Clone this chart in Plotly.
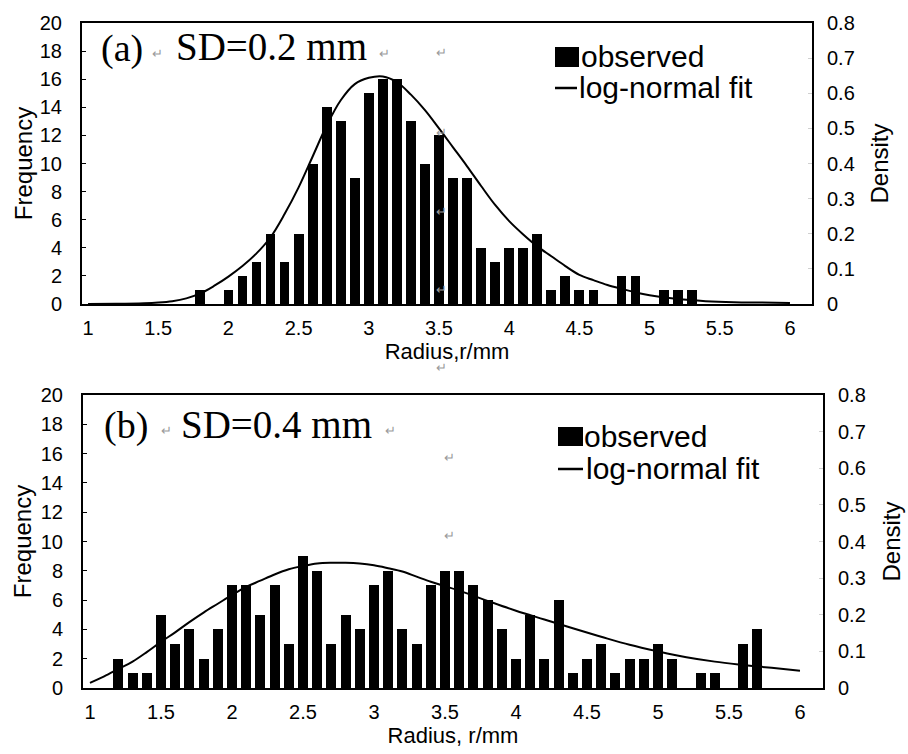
import plotly.graph_objects as go

# ---------------- data ----------------
# Panel (a): SD = 0.2 mm
a_radius = [1.8, 2.0, 2.1, 2.2, 2.3, 2.4, 2.5, 2.6, 2.7, 2.8, 2.9, 3.0, 3.1, 3.2, 3.3,
            3.4, 3.5, 3.6, 3.7, 3.8, 3.9, 4.0, 4.1, 4.2, 4.3, 4.4, 4.5, 4.6, 4.8, 4.9,
            5.1, 5.2, 5.3]
a_freq = [1, 1, 2, 3, 5, 3, 5, 10, 14, 13, 9, 15, 16, 16, 13,
          10, 12, 9, 9, 4, 3, 4, 4, 5, 1, 2, 1, 1, 2, 2,
          1, 1, 1]
a_fit_r = [1.0, 1.2, 1.4, 1.5, 1.6, 1.7, 1.8, 1.9, 2.0, 2.1, 2.2, 2.3, 2.4, 2.5, 2.6,
           2.7, 2.8, 2.9, 3.0, 3.1, 3.2, 3.3, 3.4, 3.5, 3.6, 3.7, 3.8, 3.9, 4.0, 4.1,
           4.2, 4.3, 4.4, 4.5, 4.6, 4.7, 4.8, 4.9, 5.0, 5.2, 5.4, 5.6, 5.8, 6.0]
a_fit_density = [0.000, 0.0004, 0.002, 0.004, 0.008, 0.016, 0.030, 0.052, 0.078, 0.108,
                 0.144, 0.190, 0.256, 0.332, 0.420, 0.508, 0.580, 0.626, 0.644, 0.648,
                 0.632, 0.596, 0.552, 0.500, 0.446, 0.392, 0.336, 0.282, 0.236, 0.198,
                 0.164, 0.136, 0.108, 0.083, 0.068, 0.054, 0.043, 0.033, 0.025, 0.014,
                 0.008, 0.005, 0.004, 0.003]

# Panel (b): SD = 0.4 mm
b_radius = [1.2, 1.3, 1.4, 1.5, 1.6, 1.7, 1.8, 1.9, 2.0, 2.1, 2.2, 2.3, 2.4, 2.5, 2.6,
            2.7, 2.8, 2.9, 3.0, 3.1, 3.2, 3.3, 3.4, 3.5, 3.6, 3.7, 3.8, 3.9, 4.0, 4.1,
            4.2, 4.3, 4.4, 4.5, 4.6, 4.7, 4.8, 4.9, 5.0, 5.1, 5.3, 5.4, 5.6, 5.7]
b_freq = [2, 1, 1, 5, 3, 4, 2, 4, 7, 7, 5, 7, 3, 9, 8,
          3, 5, 4, 7, 8, 4, 3, 7, 8, 8, 7, 6, 4, 2, 5,
          2, 6, 1, 2, 3, 1, 2, 2, 3, 2, 1, 1, 3, 4]
b_fit_r = [1.0, 1.1, 1.2, 1.3, 1.4, 1.5, 1.6, 1.7, 1.8, 1.9, 2.0, 2.1, 2.2, 2.3, 2.4,
           2.5, 2.6, 2.7, 2.8, 2.9, 3.0, 3.1, 3.2, 3.3, 3.4, 3.5, 3.6, 3.8, 4.0, 4.2,
           4.4, 4.6, 4.8, 5.0, 5.2, 5.4, 5.6, 5.8, 6.0]
b_fit_density = [0.014, 0.032, 0.052, 0.072, 0.098, 0.126, 0.152, 0.180, 0.206, 0.230,
                 0.254, 0.276, 0.293, 0.310, 0.324, 0.333, 0.340, 0.342, 0.342, 0.340,
                 0.335, 0.327, 0.318, 0.304, 0.290, 0.278, 0.266, 0.238, 0.211, 0.187,
                 0.163, 0.140, 0.118, 0.100, 0.084, 0.072, 0.063, 0.055, 0.047]

freq_ticks = list(range(0, 21, 2))
density_ticks = [0, 0.1, 0.2, 0.3, 0.4, 0.5, 0.6, 0.7, 0.8]
density_labels = ["0", "0.1", "0.2", "0.3", "0.4", "0.5", "0.6", "0.7", "0.8"]
radius_ticks = [1, 1.5, 2, 2.5, 3, 3.5, 4, 4.5, 5, 5.5, 6]
radius_labels = ["1", "1.5", "2", "2.5", "3", "3.5", "4", "4.5", "5", "5.5", "6"]

# ---------------- figure ----------------
W, H = 908, 754


def px(x):
    return x / W


def py(y):
    return 1 - y / H


SANS = "Liberation Sans, Arial, sans-serif"
SERIF = "Liberation Serif, Times New Roman, serif"
TICK_FONT = dict(family=SANS, size=20, color="black")

fig = go.Figure()
fig.add_trace(go.Bar(x=a_radius, y=a_freq, width=0.07, marker=dict(color="black", line=dict(width=0)),
                     name="observed", xaxis="x", yaxis="y", showlegend=False))
fig.add_trace(go.Scatter(x=a_fit_r, y=a_fit_density, mode="lines", line=dict(color="black", width=2, shape="spline"),
                         name="log-normal fit", xaxis="x", yaxis="y2", showlegend=False))
fig.add_trace(go.Bar(x=b_radius, y=b_freq, width=0.07, marker=dict(color="black", line=dict(width=0)),
                     name="observed", xaxis="x2", yaxis="y3", showlegend=False))
fig.add_trace(go.Scatter(x=b_fit_r, y=b_fit_density, mode="lines", line=dict(color="black", width=2, shape="spline"),
                         name="log-normal fit", xaxis="x2", yaxis="y4", showlegend=False))

xcommon = dict(tickmode="array", tickvals=radius_ticks, ticktext=radius_labels, ticks="", ticklen=0,
               showgrid=False, zeroline=False, showline=True, linecolor="black", linewidth=2,
               mirror=True, tickfont=TICK_FONT, ticklabelstandoff=5, automargin=False)
ycommon = dict(tickmode="array", tickvals=freq_ticks, range=[0, 20], ticks="inside", ticklen=4,
               tickcolor="black", showgrid=False, zeroline=False, showline=True, linecolor="black",
               linewidth=2, mirror=True, tickfont=TICK_FONT, ticklabelstandoff=14, automargin=False)
y2common = dict(tickmode="array", tickvals=density_ticks, ticktext=density_labels, range=[0, 0.8],
                side="right", ticks="inside", ticklen=4, tickcolor="#d0d0d0", showgrid=False,
                zeroline=False, showline=False, tickfont=TICK_FONT, ticklabelstandoff=14, automargin=False)

top_dom_x = [px(82), px(812)]
top_dom_y = [py(304), py(23)]
bot_dom_x = [px(83), px(823)]
bot_dom_y = [py(688), py(395)]

fig.update_layout(
    template="none",
    width=W, height=H,
    margin=dict(l=0, r=0, t=0, b=0, autoexpand=False),
    paper_bgcolor="white", plot_bgcolor="white",
    bargap=0,
    xaxis=dict(xcommon, domain=top_dom_x, anchor="y", range=[0.957, 6.157],
               title=dict(text="Radius,r/mm", font=dict(family=SANS, size=22, color="black"), standoff=2)),
    yaxis=dict(ycommon, domain=top_dom_y, anchor="x",
               title=dict(text="Frequency", font=dict(family=SANS, size=24, color="black"), standoff=0)),
    yaxis2=dict(y2common, overlaying="y", anchor="x",
                title=dict(text="Density", font=dict(family=SANS, size=24, color="black"), standoff=17)),
    xaxis2=dict(xcommon, domain=bot_dom_x, anchor="y3", range=[0.951, 6.162],
                title=dict(text="Radius, r/mm", font=dict(family=SANS, size=22, color="black"), standoff=5)),
    yaxis3=dict(ycommon, domain=bot_dom_y, anchor="x2",
                title=dict(text="Frequency", font=dict(family=SANS, size=24, color="black"), standoff=2)),
    yaxis4=dict(y2common, overlaying="y3", anchor="x2",
                title=dict(text="Density", font=dict(family=SANS, size=24, color="black"), standoff=18)),
)

ann = []
GRAY = "#9a9a9a"


def txt(x, y, s, size, family=SANS, color="black", xanchor="left"):
    ann.append(dict(x=px(x), y=py(y), xref="paper", yref="paper", text=s, showarrow=False,
                    xanchor=xanchor, yanchor="middle", font=dict(family=family, size=size, color=color)))


# panel labels with the stray paragraph marks
txt(99, 48, "(a)", 38, SERIF)
txt(157, 53, "↵", 13, SANS, GRAY, "center")
txt(174, 47, "SD=0.2 mm", 39, SERIF)
txt(384, 53, "↵", 13, SANS, GRAY, "center")
txt(441, 52, "↵", 13, SANS, GRAY, "center")
txt(441, 132, "↵", 13, SANS, GRAY, "center")
txt(441, 211, "↵", 13, SANS, GRAY, "center")
txt(441, 289, "↵", 13, SANS, GRAY, "center")
txt(441, 367, "↵", 13, SANS, GRAY, "center")

txt(102, 425, "(b)", 38, SERIF)
txt(166, 430, "↵", 13, SANS, GRAY, "center")
txt(179, 424, "SD=0.4 mm", 39, SERIF)
txt(390, 430, "↵", 13, SANS, GRAY, "center")
txt(449, 457, "↵", 13, SANS, GRAY, "center")
txt(449, 535, "↵", 13, SANS, GRAY, "center")

# legend texts
txt(579, 57, "observed", 30)
txt(577, 87, "log-normal fit", 30)
txt(582, 436, "observed", 30)
txt(584, 468, "log-normal fit", 30)

shapes = [
    dict(type="rect", xref="paper", yref="paper", x0=px(555), x1=px(579), y0=py(67), y1=py(47),
         fillcolor="black", line=dict(width=0)),
    dict(type="line", xref="paper", yref="paper", x0=px(555), x1=px(577), y0=py(88), y1=py(88),
         line=dict(color="black", width=2.5)),
    dict(type="rect", xref="paper", yref="paper", x0=px(558), x1=px(583), y0=py(446), y1=py(427),
         fillcolor="black", line=dict(width=0)),
    dict(type="line", xref="paper", yref="paper", x0=px(558), x1=px(583), y0=py(469), y1=py(469),
         line=dict(color="black", width=2.5)),
]

fig.update_layout(annotations=ann, shapes=shapes)
fig.write_html("out.html", config={"displayModeBar": False},
               post_script="document.body.style.margin='0px';")
